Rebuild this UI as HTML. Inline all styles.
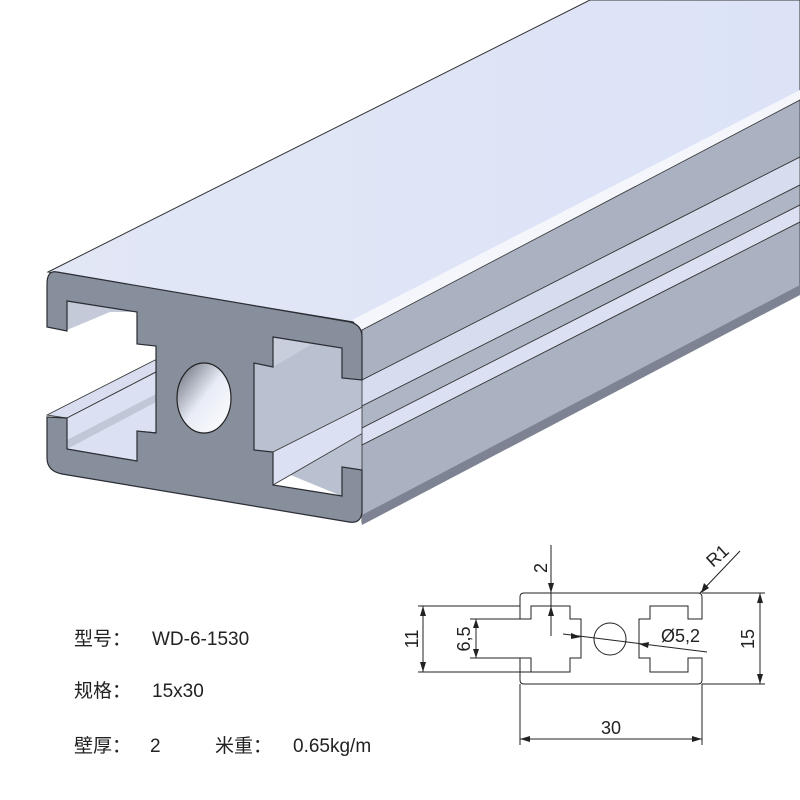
<!DOCTYPE html>
<html><head><meta charset="utf-8"><style>
html,body{margin:0;padding:0;background:#fff;}
svg{display:block;}
.t{font-family:"Liberation Sans","Noto Sans CJK SC",sans-serif;font-size:19px;fill:#222;}
.d{font-family:"Liberation Sans",sans-serif;font-size:18px;fill:#222;}
</style></head><body>
<svg width="800" height="800" viewBox="0 0 800 800" xmlns="http://www.w3.org/2000/svg">
<defs>
<linearGradient id="hole" x1="0" y1="0" x2="1" y2="1">
<stop offset="0" stop-color="#606674"/><stop offset="0.5" stop-color="#e8ecf6"/><stop offset="1" stop-color="#ffffff"/>
</linearGradient>
<linearGradient id="topg" x1="0" y1="0" x2="1" y2="0">
<stop offset="0" stop-color="#e2e7f6"/><stop offset="1" stop-color="#dce3f7"/>
</linearGradient>
<clipPath id="slot"><rect x="250" y="300" width="112" height="230"/></clipPath>
</defs>
<!-- right slot interior (behind) -->
<g clip-path="url(#slot)">
<polygon points="254,337 400,262 400,520 254,460" fill="#b9c0cf"/>
<polygon points="273,452 420,378 420,400 273,485" fill="#dbe1f2" stroke="#333" stroke-width="0.8"/>
<polygon points="273,337 420,262 420,280 273,367" fill="#c8cedc"/>
</g>
<!-- top face -->
<polygon points="48,272 590,0 800,0 800,93 360,323" fill="url(#topg)" stroke="#333" stroke-width="1"/>
<polygon points="352,320 800,90 800,100 362,330" fill="#f4f6fc"/>
<!-- right side bands -->
<polygon points="362,330 800,100 800,157 362,380" fill="#aab1c1" stroke="#333" stroke-width="0.8"/>
<polygon points="362,380 800,157 800,185 362,406" fill="#d6ddef" stroke="#333" stroke-width="0.8"/>
<polygon points="362,406 800,185 800,205 362,428" fill="#aeb5c5" stroke="#333" stroke-width="0.8"/>
<polygon points="362,428 800,205 800,222 362,445" fill="#dbe1f2" stroke="#333" stroke-width="0.8"/>
<polygon points="362,445 800,222 800,293 362,523" fill="#aab1c1" stroke="#333" stroke-width="0.8"/>
<polygon points="362,515 800,285 800,295 362,525" fill="#7d8392"/>
<!-- left upper slot underside -->
<polygon points="67,301 137,312 110,312 67,330" fill="#c4cad8"/>
<!-- left lower channel -->
<polygon points="47,415 155,360 175,362 67,418" fill="#d8def0" stroke="#333" stroke-width="0.8"/>
<polygon points="67,418 160,370 160,433 137,431 137,461 67,449" fill="#dbe1f2" stroke="#333" stroke-width="0.8"/>
<polygon points="67,440 160,392 160,400 67,449" fill="#c0c7d6"/>
<!-- front face -->
<path d="M57,272 L350,322 Q362,325 362,337 L362,380 L342,378 L342,348 L273,337 L273,367 L254,363 L254,450 L273,452 L273,485 L342,496 L342,467 L362,470 L362,512 Q361,524 349,522 L62,474 Q47,471 47,458 L47,417 L67,418 L67,449 L137,461 L137,431 L156,433 L156,346 L137,344 L137,312 L67,301 L67,331 L47,327 L47,284 Q47,270 57,272 Z" fill="#878e9c" stroke="#2a2d33" stroke-width="1.2"/>
<ellipse cx="204" cy="398" rx="27" ry="35" fill="url(#hole)" stroke="#222" stroke-width="1.2"/>

<!-- text -->
<text class="t" x="74" y="645">型号：</text>
<text class="t" x="152" y="645">WD-6-1530</text>
<text class="t" x="74" y="697">规格：</text>
<text class="t" x="152" y="697">15x30</text>
<text class="t" x="74" y="752">壁厚：</text>
<text class="t" x="150" y="752">2</text>
<text class="t" x="215" y="752">米重：</text>
<text class="t" x="293" y="752">0.65kg/m</text>

<!-- drawing -->
<g fill="none" stroke="#222" stroke-width="1">
<path d="M524,593 L698,593 Q702,593 702,597 L702,619 L688,619 L688,606 L650,606 L650,619 L639,619 L639,658 L650,658 L650,672 L688,672 L688,658 L702,658 L702,680 Q702,684 698,684 L524,684 Q520,684 520,680 L520,658 L531,658 L531,672 L570,672 L570,658 L581,658 L581,619 L570,619 L570,606 L531,606 L531,619 L520,619 L520,597 Q520,593 524,593 Z"/>
<circle cx="610" cy="639" r="16"/>
<line x1="418" y1="606" x2="520" y2="606"/>
<line x1="418" y1="672" x2="531" y2="672"/>
<line x1="423" y1="606" x2="423" y2="672"/>
<line x1="470" y1="619" x2="520" y2="619"/>
<line x1="470" y1="658" x2="520" y2="658"/>
<line x1="476" y1="619" x2="476" y2="658"/>
<line x1="551" y1="545" x2="551" y2="636"/>
<line x1="702" y1="593" x2="765" y2="593"/>
<line x1="702" y1="684" x2="765" y2="684"/>
<line x1="760" y1="593" x2="760" y2="684"/>
<line x1="520" y1="684" x2="520" y2="745"/>
<line x1="702" y1="684" x2="702" y2="745"/>
<line x1="520" y1="739" x2="702" y2="739"/>
<line x1="700" y1="593" x2="740" y2="551"/>
<line x1="563" y1="634" x2="707" y2="652"/>
</g>
<g fill="#222">
<polygon points="423,606 420,616 426,616"/><polygon points="423,672 420,662 426,662"/>
<polygon points="476,619 473,628 479,628"/><polygon points="476,658 473,649 479,649"/>
<polygon points="551,593 548,583 554,583"/><polygon points="551,606 548,616 554,616"/>
<polygon points="760,593 757,603 763,603"/><polygon points="760,684 757,674 763,674"/>
<polygon points="520,739 530,736 530,742"/><polygon points="702,739 692,736 692,742"/>
<polygon points="701,593 704,583 709,588"/>
<polygon points="581,637 571,633 571,639"/><polygon points="639,644 649,642 648,648"/>
</g>
<text class="d" transform="translate(547,568) rotate(-90)" text-anchor="middle">2</text>
<text class="d" transform="translate(418,639) rotate(-90)" text-anchor="middle">11</text>
<text class="d" transform="translate(470,639) rotate(-90)" text-anchor="middle">6,5</text>
<text class="d" transform="translate(754,639) rotate(-90)" text-anchor="middle">15</text>
<text class="d" x="611" y="734" text-anchor="middle">30</text>
<text class="d" x="661" y="642">Ø5,2</text>
<text class="d" transform="translate(713,568) rotate(-42)">R1</text>
</svg>
</body></html>
